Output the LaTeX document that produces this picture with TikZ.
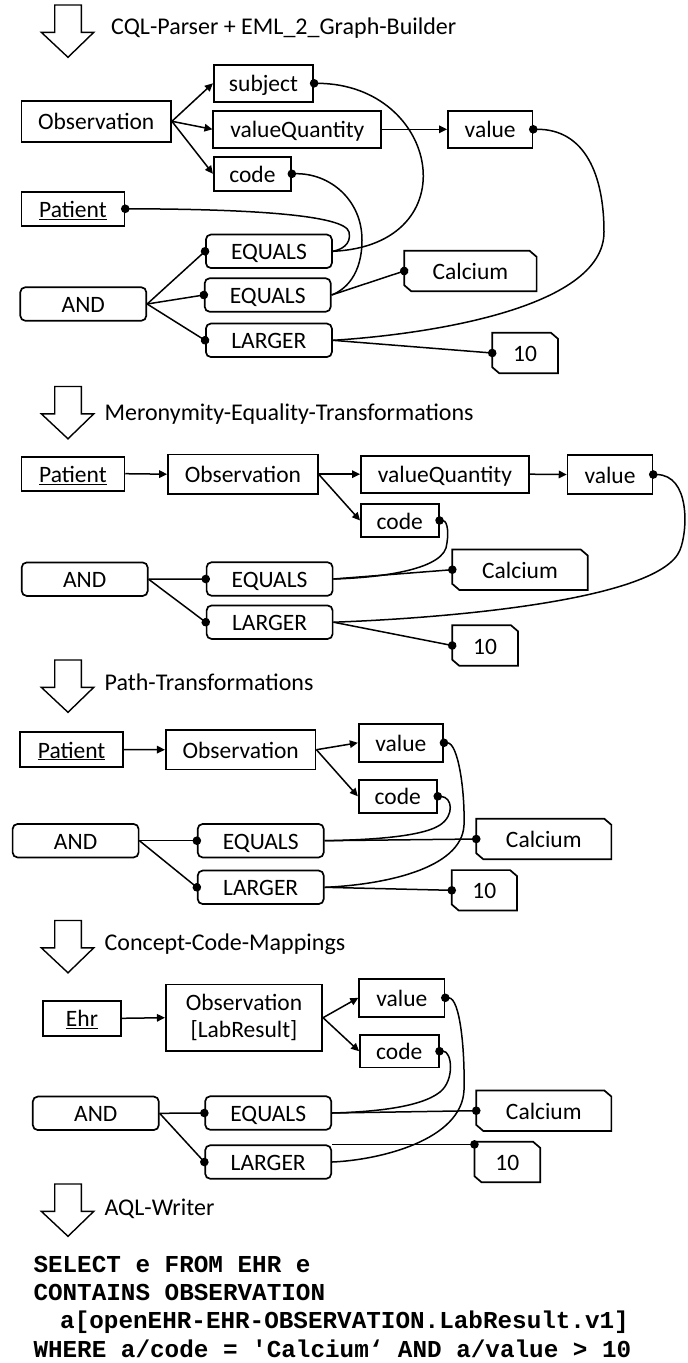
\documentclass[tikz,border=0pt]{standalone}
\usepackage{fontspec}
\setmainfont{Carlito}
\setmonofont{Liberation Mono}
\usetikzlibrary{arrows.meta}
\newcommand\bigarr[1]{\draw[line width=1.4pt, line join=miter] (54.7,#1) -- (81.3,#1) -- (81.3,#1+27.3) -- (93.8,#1+27.3) -- (68,#1+52.3) -- (41.3,#1+27.3) -- (54.7,#1+27.3) -- cycle;}
\newcommand\chamf[1]{\draw[line width=1.7pt] (#1.north west) -- ([xshift=-7pt]#1.north east) -- ([yshift=-6pt]#1.north east) -- (#1.south east) -- ([xshift=7pt]#1.south west) -- ([yshift=6pt]#1.south west) -- cycle;}
\begin{document}
\begin{tikzpicture}[x=1pt,y=-1pt,
  every node/.style={font=\fontsize{23.5}{27.3}\selectfont, inner sep=0pt},
  tx/.style={text height=17pt, text depth=0pt},
  sq/.style={draw, line width=1.7pt, tx},
  rd/.style={draw, line width=1.7pt, rounded corners=5pt, minimum width=126pt, minimum height=33.5pt, tx},
  ch/.style={minimum height=40pt, tx},
  tt/.style={anchor=west, tx, font=\fontsize{24}{28}\selectfont},
  sqlline/.style={anchor=west, font=\ttfamily\bfseries\fontsize{24.3}{28}\selectfont, text height=14pt, text depth=0pt},
  ar/.style={line width=1.5pt, -{Triangle[length=8pt,width=7.5pt]}},
  de/.style={line width=1.5pt, -{Circle[length=8.5pt]}, shorten >=-4.25pt},
  ds/.style={line width=1.5pt, {Circle[length=8.5pt]}-, shorten <=-4.25pt},
]
\path[fill=white, use as bounding box] (0,0) rectangle (688,1363);

% ---------- Section 1 ----------
\bigarr{5}
\node[tt] (t1) at (111,26) {CQL-Parser + EML\_2\_Graph-Builder};
\node[sq, minimum width=99.5pt, minimum height=36.7pt] (subj1) at (263.5,83.3) {subject};
\node[sq, minimum width=149.7pt, minimum height=40.7pt] (obs1) at (96.2,121.3) {Observation};
\node[sq, minimum width=168pt, minimum height=36.7pt] (vq1) at (297.3,129.3) {valueQuantity};
\node[sq, minimum width=84.4pt, minimum height=36.7pt] (val1) at (490.2,129.3) {value};
\node[sq, minimum width=77.2pt, minimum height=33.7pt] (code1) at (252.4,173.8) {code};
\node[sq, minimum width=103pt, minimum height=34.3pt] (pat1) at (72.9,208.8) {\underline{Patient}};
\node[rd] (eqa1) at (268.9,251.3) {EQUALS};
\node[rd] (eqb1) at (267.7,295) {EQUALS};
\node[rd] (and1) at (83.3,304) {AND};
\node[rd] (lg1) at (268.9,340.3) {LARGER};
\node[ch, minimum width=132pt] (cal1) at (470.4,271) {Calcium};
\node[ch, minimum width=65.4pt] (ten1) at (525.1,353) {10};
\chamf{cal1}
\chamf{ten1}
\draw[ar] (obs1.east) -- (subj1.west);
\draw[ar] (obs1.east) -- (vq1.west);
\draw[ar] (obs1.east) -- (code1.west);
\draw[ar] (vq1.east) -- (val1.west);
\draw[ds] (subj1.east) .. controls (440,84) and (470,245) .. (eqa1.east);
\draw[ds] (val1.east) .. controls (585,129) and (604,175) .. (604,232) .. controls (604,310) and (420,335) .. (lg1.east);
\draw[ds] (code1.east) .. controls (330,173) and (362,200) .. (362,240) .. controls (362,275) and (345,290) .. (eqb1.east);
\draw[ds] (pat1.east) .. controls (250,209) and (345,215) .. (349,232) .. controls (352,245) and (340,250) .. (eqa1.east);
\draw[de] (and1.east) -- (eqa1.west);
\draw[de] (and1.east) -- (eqb1.west);
\draw[de] (and1.east) -- (lg1.west);
\draw[de] (eqb1.east) -- (cal1.west);
\draw[de] (lg1.east) -- (ten1.west);

% ---------- Section 2 ----------
\bigarr{386.5}
\node[tt] (t2) at (104.4,411.7) {Meronymity-Equality-Transformations};
\node[sq, minimum width=103pt, minimum height=34pt] (pat2) at (72.9,473.7) {\underline{Patient}};
\node[sq, minimum width=149.8pt, minimum height=39.7pt] (obs2) at (242.9,474.2) {Observation};
\node[sq, minimum width=168pt, minimum height=37pt] (vq2) at (444.9,474.2) {valueQuantity};
\node[sq, minimum width=84.8pt, minimum height=39pt] (val2) at (610,474.5) {value};
\node[sq, minimum width=77.8pt, minimum height=32.4pt] (code2) at (399.8,520.5) {code};
\node[rd] (and2) at (84.7,579.2) {AND};
\node[rd] (eq2) at (269.6,579) {EQUALS};
\node[rd] (lg2) at (269.6,622.2) {LARGER};
\node[ch, minimum width=135pt] (cal2) at (520,569.7) {Calcium};
\node[ch, minimum width=65.4pt] (ten2) at (485.1,645.5) {10};
\chamf{cal2}
\chamf{ten2}
\draw[ar] (pat2.east) -- (obs2.west);
\draw[ar] (obs2.east) -- (vq2.west);
\draw[ar] (obs2.east) -- (code2.west);
\draw[ar] (vq2.east) -- (val2.west);
\draw[ds] (code2.east) .. controls (448,521) and (449,535) .. (446,548) .. controls (438,572) and (370,578) .. (eq2.east);
\draw[ds] (val2.east) .. controls (690,475) and (688,530) .. (680,550) .. controls (660,600) and (450,618) .. (lg2.east);
\draw[de] (and2.east) -- (eq2.west);
\draw[de] (and2.east) -- (lg2.west);
\draw[de] (eq2.east) -- (cal2.west);
\draw[de] (lg2.east) -- (ten2.west);

% ---------- Section 3 ----------
\bigarr{660}
\node[tt] (t3) at (104.4,682.3) {Path-Transformations};
\node[sq, minimum width=103pt, minimum height=34.4pt] (pat3) at (71.6,749.5) {\underline{Patient}};
\node[sq, minimum width=149.8pt, minimum height=39.3pt] (obs3) at (240.7,749.7) {Observation};
\node[sq, minimum width=84.4pt, minimum height=37.7pt] (val3) at (400.9,742.8) {value};
\node[sq, minimum width=78.2pt, minimum height=32.7pt] (code3) at (397.8,796.3) {code};
\node[rd] (and3) at (75.6,840.7) {AND};
\node[rd] (eq3) at (260.7,840.7) {EQUALS};
\node[rd] (lg3) at (260.7,887.3) {LARGER};
\node[ch, minimum width=134.7pt] (cal3) at (543.8,839) {Calcium};
\node[ch, minimum width=64.9pt] (ten3) at (484.4,890.3) {10};
\chamf{cal3}
\chamf{ten3}
\draw[ar] (pat3.east) -- (obs3.west);
\draw[ar] (obs3.east) -- (val3.west);
\draw[ar] (obs3.east) -- (code3.west);
\draw[ds] (code3.east) .. controls (452,797) and (455,815) .. (440,825) .. controls (420,838) and (360,840) .. (eq3.east);
\draw[ds] (val3.east) .. controls (458,743) and (465,790) .. (464,825) .. controls (462,870) and (380,885) .. (lg3.east);
\draw[de] (and3.east) -- (eq3.west);
\draw[de] (and3.east) -- (lg3.west);
\draw[de] (eq3.east) -- (cal3.west);
\draw[de] (lg3.east) -- (ten3.west);

% ---------- Section 4 ----------
\bigarr{920.5}
\node[tt] (t4) at (104.4,941.7) {Concept-Code-Mappings};
\node[sq, minimum width=77.8pt, minimum height=34.7pt] (ehr) at (82,1018.3) {\underline{Ehr}};
\node[draw, line width=1.7pt, minimum width=156.4pt, minimum height=66.7pt, align=center] (obs4) at (244,1017.7) {Observation\\{[LabResult]}};
\node[sq, minimum width=85.3pt, minimum height=37.7pt] (val4) at (401.8,997.8) {value};
\node[sq, minimum width=78.7pt, minimum height=32.3pt] (code4) at (399.3,1051.2) {code};
\node[rd] (and4) at (95.8,1113.3) {AND};
\node[rd] (eq4) at (268.2,1113) {EQUALS};
\node[rd] (lg4) at (268.2,1162) {LARGER};
\node[ch, minimum width=134.7pt] (cal4) at (543.8,1110.7) {Calcium};
\node[ch, minimum width=65.3pt] (ten4) at (507.3,1162) {10};
\chamf{cal4}
\chamf{ten4}
\draw[ar] (ehr.east) -- (obs4.west);
\draw[ar] (obs4.east) -- (val4.west);
\draw[ar] (obs4.east) -- (code4.west);
\draw[ds] (code4.east) .. controls (452,1051) and (455,1080) .. (440,1092) .. controls (420,1108) and (370,1112) .. (eq4.east);
\draw[ds] (val4.east) .. controls (460,998) and (465,1050) .. (464,1090) .. controls (462,1140) and (380,1160) .. (lg4.east);
\draw[de] (and4.east) -- (eq4.west);
\draw[de] (and4.east) -- (lg4.west);
\draw[de] (eq4.east) -- (cal4.west);
\draw[de] (lg4.north east) -- (lg4.north east -| ten4.west);

% ---------- Section 5 ----------
\bigarr{1184}
\node[tt] (t5) at (104.4,1206.7) {AQL-Writer};
\node[sqlline] (q1) at (33.3,1265) {SELECT e FROM EHR e};
\node[sqlline] (q2) at (33.3,1293.3) {CONTAINS OBSERVATION};
\node[sqlline] (q3) at (60,1321.7) {a[openEHR-EHR-OBSERVATION.LabResult.v1]};
\node[sqlline] (q4) at (33.3,1350) {WHERE a/code = 'Calcium‘ AND a/value > 10};
\end{tikzpicture}
\end{document}
